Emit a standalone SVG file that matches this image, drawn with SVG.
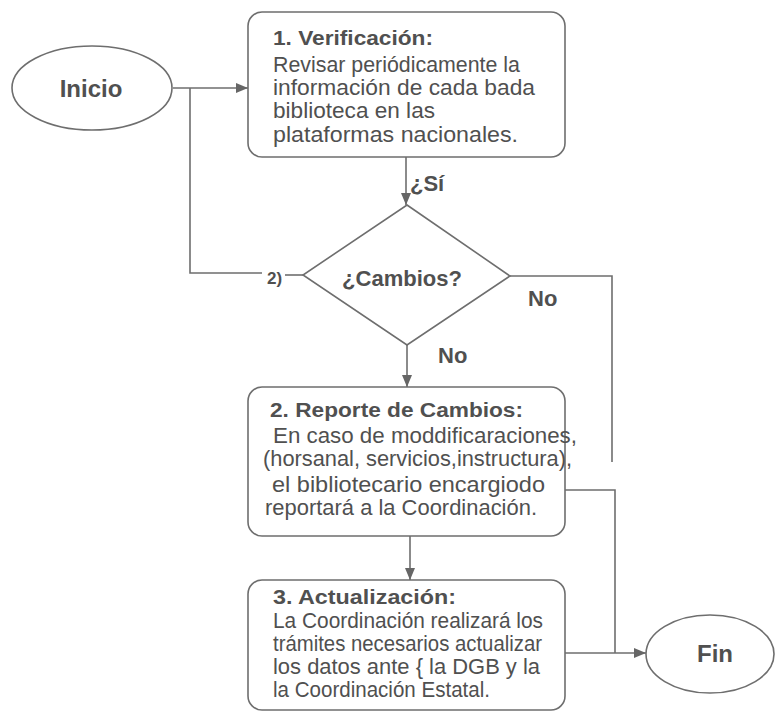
<svg xmlns="http://www.w3.org/2000/svg" width="775" height="712" viewBox="0 0 775 712">
<style>
.shape{fill:#ffffff;stroke:#6e6e6e;stroke-width:1.6}
.conn{fill:none;stroke:#6e6e6e;stroke-width:1.6}
.t{font-family:"Liberation Sans",Arial,sans-serif;fill:#505050}
.title{font-size:20px;font-weight:bold}
.body{font-size:22px}
.lbl{font-size:22px;font-weight:bold}
</style>
<defs>
<marker id="arr" viewBox="0 0 12 10" refX="12" refY="5" markerWidth="12" markerHeight="10" markerUnits="userSpaceOnUse" orient="auto">
<path d="M0,0 L12,5 L0,10 Z" fill="#666666"/>
</marker>
</defs>
<rect width="775" height="712" fill="#ffffff"/>
<g id="connectors">
<path class="conn" d="M173,88 L248,88" marker-end="url(#arr)"/>
<path class="conn" d="M190,88 L190,273 L262,273"/>
<path class="conn" d="M285,275 L303,275"/>
<path class="conn" d="M406,157 L406,205" marker-end="url(#arr)"/>
<path class="conn" d="M510,276 L612,276 L612,462"/>
<path class="conn" d="M407,345 L407,387" marker-end="url(#arr)"/>
<path class="conn" d="M410,536 L410,580" marker-end="url(#arr)"/>
<path class="conn" d="M565,490 L615,490 L615,653"/>
<path class="conn" d="M565,653 L646,653" marker-end="url(#arr)"/>
<text class="t" x="267" y="284" font-size="17" font-weight="bold">2)</text>
<text class="t lbl" x="410" y="191" font-size="21">¿Sí</text>
<text class="t lbl" x="528" y="306">No</text>
<text class="t lbl" x="438" y="363">No</text>
</g>
<g id="inicio">
<ellipse class="shape" cx="92" cy="88" rx="80" ry="42"/>
<text class="t" x="91" y="97" font-size="24" font-weight="bold" text-anchor="middle">Inicio</text>
</g>
<g id="verificacion">
<rect class="shape" x="248" y="12" width="317" height="145" rx="14"/>
<text class="t title" x="273" y="45" textLength="160" lengthAdjust="spacingAndGlyphs">1. Verificación:</text>
<text class="t body" x="273" y="72" textLength="247" lengthAdjust="spacingAndGlyphs">Revisar periódicamente la</text>
<text class="t body" x="273" y="95" textLength="262" lengthAdjust="spacingAndGlyphs">información de cada bada</text>
<text class="t body" x="273" y="118" textLength="162" lengthAdjust="spacingAndGlyphs">biblioteca en las</text>
<text class="t body" x="273" y="142" textLength="245" lengthAdjust="spacingAndGlyphs">plataformas nacionales.</text>
</g>
<g id="cambios">
<polygon class="shape" points="407,205 510,276 407,345 303,275"/>
<text class="t" x="402" y="286" font-size="22" font-weight="bold" text-anchor="middle">¿Cambios?</text>
</g>
<g id="reporte">
<rect class="shape" x="248" y="387" width="317" height="149" rx="14"/>
<text class="t title" x="270" y="417" textLength="253" lengthAdjust="spacingAndGlyphs">2. Reporte de Cambios:</text>
<text class="t body" x="273" y="443" textLength="304" lengthAdjust="spacingAndGlyphs">En caso de moddificaraciones,</text>
<text class="t body" x="263" y="466" textLength="309" lengthAdjust="spacingAndGlyphs">(horsanal, servicios,instructura),</text>
<text class="t body" x="272" y="492" textLength="273" lengthAdjust="spacingAndGlyphs">el bibliotecario encargiodo</text>
<text class="t body" x="265" y="515" textLength="272" lengthAdjust="spacingAndGlyphs">reportará a la Coordinación.</text>
</g>
<g id="actualizacion">
<rect class="shape" x="248" y="580" width="317" height="130" rx="14"/>
<text class="t title" x="273" y="604" textLength="183" lengthAdjust="spacingAndGlyphs">3. Actualización:</text>
<text class="t body" x="273" y="628" textLength="270" lengthAdjust="spacingAndGlyphs">La Coordinación realizará los</text>
<text class="t body" x="273" y="651" textLength="269" lengthAdjust="spacingAndGlyphs">trámites necesarios actualizar</text>
<text class="t body" x="273" y="674" textLength="267" lengthAdjust="spacingAndGlyphs">los datos ante { la DGB y la</text>
<text class="t body" x="273" y="697" textLength="217" lengthAdjust="spacingAndGlyphs">la Coordinación Estatal.</text>
</g>
<g id="fin">
<ellipse class="shape" cx="710" cy="654" rx="64" ry="39"/>
<text class="t" x="715" y="662" font-size="24" font-weight="bold" text-anchor="middle">Fin</text>
</g>
</svg>
